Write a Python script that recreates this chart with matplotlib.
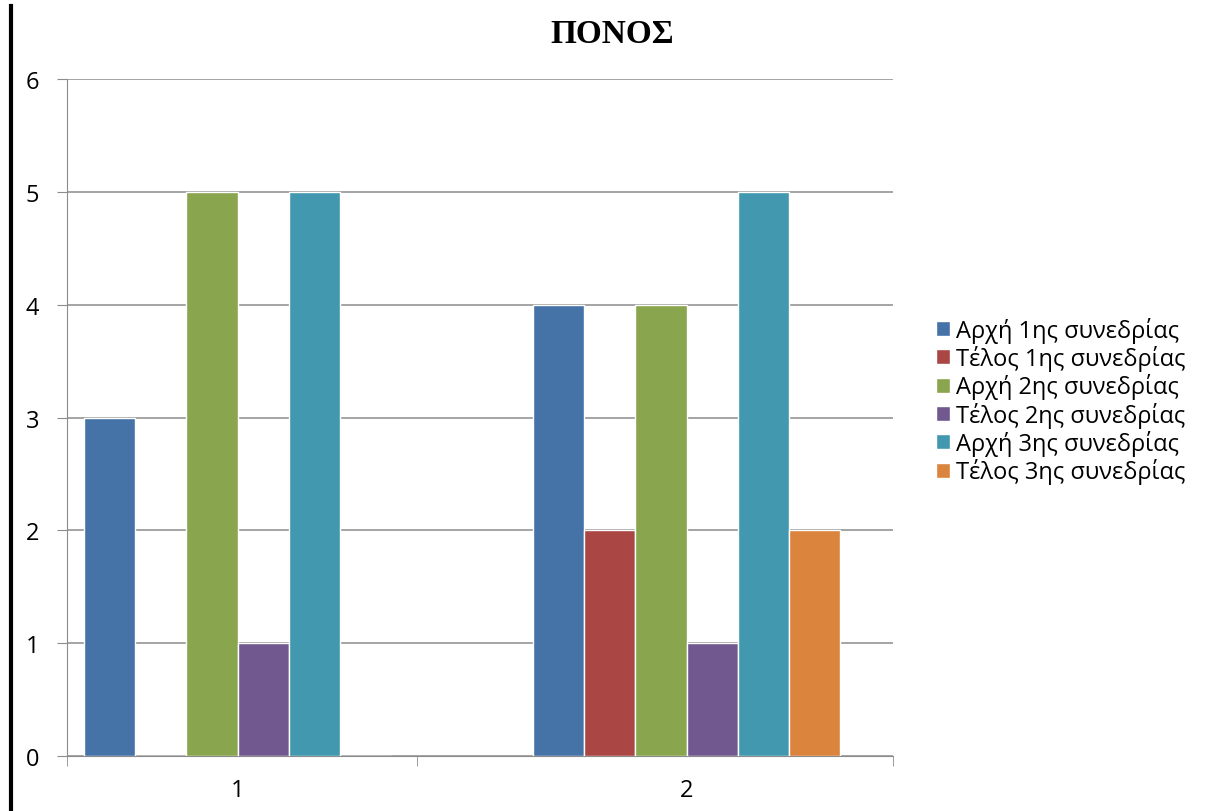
import numpy as np
import matplotlib
matplotlib.use("Agg")
import matplotlib.pyplot as plt
from matplotlib.lines import Line2D

# data
categories = ["1", "2"]
series = ["Αρχή 1ης συνεδρίας", "Τέλος 1ης συνεδρίας", "Αρχή 2ης συνεδρίας",
          "Τέλος 2ης συνεδρίας", "Αρχή 3ης συνεδρίας", "Τέλος 3ης συνεδρίας"]
arxi_1 = [3, 4]
telos_1 = [0, 2]
arxi_2 = [5, 4]
telos_2 = [1, 1]
arxi_3 = [5, 5]
telos_3 = [0, 2]
colors = ["#4572A7", "#AA4643", "#89A54E", "#71588F", "#4198AF", "#DB843D"]

plt.rcParams["font.family"] = ["Open Sans", "DejaVu Sans"]

fig = plt.figure(figsize=(12.19, 8.12), dpi=100)
ax = fig.add_axes([0.055, 0.0677, 0.6776, 0.8338])

x = np.arange(len(categories))
w = 0.114
vals = [arxi_1, telos_1, arxi_2, telos_2, arxi_3, telos_3]
for i, (name, v) in enumerate(zip(series, vals)):
    ax.bar(x + (i - 2.5) * w, v, w, color=colors[i], edgecolor="white",
           linewidth=1, label=name, zorder=3)

ax.set_ylim(0, 6)
ax.set_xlim(-0.38, 1.46)
ax.set_yticks(range(0, 7))
ax.yaxis.grid(True, color="#8c8c8c", linewidth=1.1)
ax.set_axisbelow(True)
for s in ["top", "right"]:
    ax.spines[s].set_visible(False)
ax.spines["left"].set_color("#8c8c8c")
ax.spines["bottom"].set_color("#8c8c8c")
ax.tick_params(axis="y", length=7, color="#8c8c8c", pad=13, labelsize=17)
ax.set_xticks(x)
ax.set_xticklabels(categories)
ax.tick_params(axis="x", length=0, pad=16, labelsize=17)
ax.set_xticks([-0.38, 0.4, 1.46], minor=True)
ax.tick_params(axis="x", which="minor", length=7, color="#8c8c8c")

fig.text(0.502, 0.958, "ΠΟΝΟΣ", ha="center", va="center", fontsize=24,
         fontweight="bold", family="Liberation Serif")

ax.legend(loc="center left", bbox_to_anchor=(1.04, 0.525), frameon=False,
          fontsize=17, handlelength=0.6, handleheight=0.6, handletextpad=0.25,
          labelspacing=0.1, borderaxespad=0)

# thick black line at the left edge
fig.add_artist(Line2D([0.009, 0.009], [0, 0.991], color="black", linewidth=3,
                      transform=fig.transFigure))

fig.savefig("out.png", dpi=100)
